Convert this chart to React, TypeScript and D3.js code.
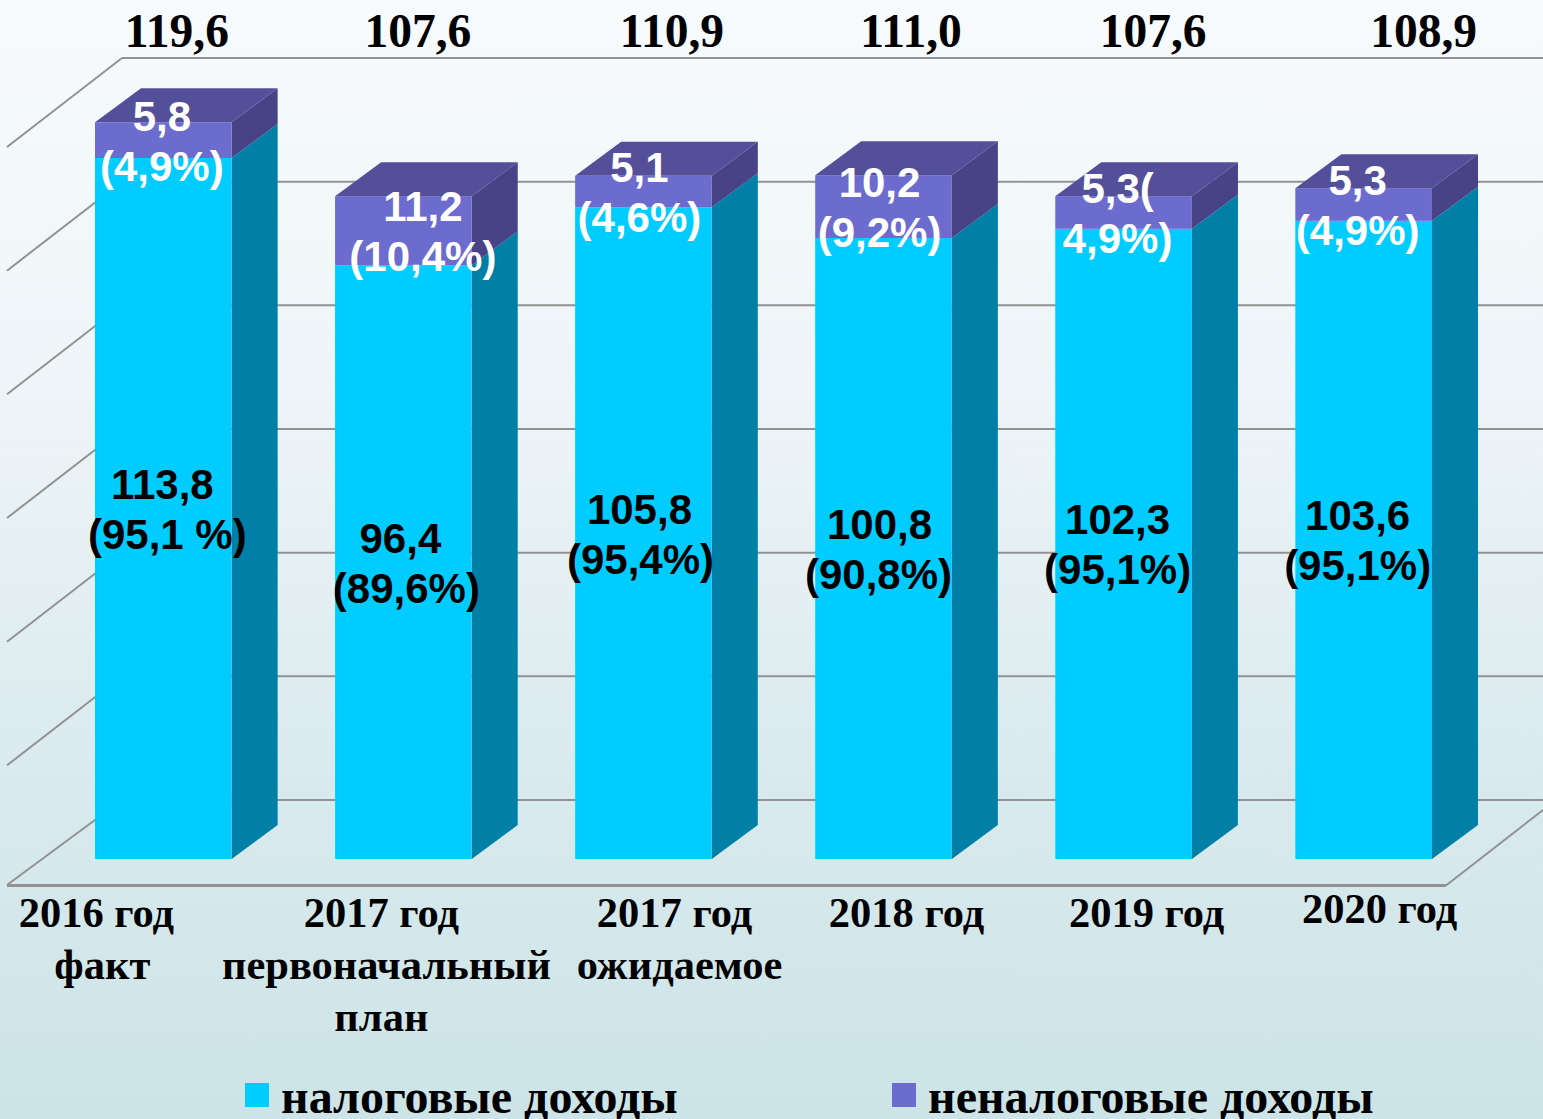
// Stacked pseudo-3D bars: tax and non-tax budget revenue by year.
import * as d3 from 'd3';

const keys = ['2016f', '2017p', '2017e', '2018', '2019', '2020'];
const totals = ['119,6', '107,6', '110,9', '111,0', '107,6', '108,9'];
const taxValues = [113.8, 96.4, 105.8, 100.8, 102.3, 103.6];
const nonTaxValues = [5.8, 11.2, 5.1, 10.2, 5.3, 5.3];
const taxLabels = [
  ['113,8', '(95,1 %)'],
  ['96,4', '(89,6%)'],
  ['105,8', '(95,4%)'],
  ['100,8', '(90,8%)'],
  ['102,3', '(95,1%)'],
  ['103,6', '(95,1%)'],
];
const nonTaxLabels = [
  ['5,8', '(4,9%)'],
  ['11,2', '(10,4%)'],
  ['5,1', '(4,6%)'],
  ['10,2', '(9,2%)'],
  ['5,3(', '4,9%)'],
  ['5,3', '(4,9%)'],
];
const categoryLabels = [
  ['2016 год', 'факт'],
  ['2017 год', 'первоначальный', 'план'],
  ['2017 год', 'ожидаемое'],
  ['2018 год'],
  ['2019 год'],
  ['2020 год'],
];
const gridTicks = [0, 20, 40, 60, 80, 100, 120];
const legendNames = ['налоговые доходы', 'неналоговые доходы'];

// hand-placed label nudges, px relative to the bar centre
const totalDx = [13.5, 14.5, 28.5, 27.5, 29.5, 60];
const taxDx = [[-1, 4], [-3, 3], [-4, -3], [-4, -5], [-6, -6], [-6, -6]];
const nonTaxDx = [-1.5, 19.5, -4, -4, -6, -6];
const categoryDx = [[-67, -61], [-22, -17, -22], [31, 36], [23], [23], [16]];
const categoryDy = [0, 0, 0, 0, 0, -4];

const WIDTH = 1543;
const HEIGHT = 1119;
const DEPTH_X = 46;
const DEPTH_Y = 34;
const SERIF = '"Liberation Serif", serif';
const SANS = '"Liberation Sans", sans-serif';

const colors = {
  tax: '#00ccff',
  taxSide: '#0080a6',
  nonTax: '#6c6bce',
  nonTaxTop: '#544f99',
  nonTaxSide: '#484386',
  grid: '#929292',
};

const x = d3.scaleBand<string>().domain(keys).range([43.5, 1483.5]).paddingInner(103.4 / 240).paddingOuter(0.2146);
const y = d3.scaleLinear().domain([0, 120]).range([859, 119.8]);
const wallY = d3.scaleLinear().domain([0, 120]).range([800, 58]);

function Box({ left, width, top, bottom, front, side }: { left: number; width: number; top: number; bottom: number; front: string; side: string }) {
  const right = left + width;
  const path = d3.path();
  path.moveTo(right, top);
  path.lineTo(right + DEPTH_X, top - DEPTH_Y);
  path.lineTo(right + DEPTH_X, bottom - DEPTH_Y);
  path.lineTo(right, bottom);
  path.closePath();
  return (
    <g>
      <path d={path.toString()} fill={side} />
      <rect x={left} y={top} width={width} height={bottom - top} fill={front} />
    </g>
  );
}

function Lines({ lines, cx, y0, dy, dx, ...rest }: any) {
  return (
    <text {...rest}>
      {lines.map((line: string, i: number) => (
        <tspan key={i} x={cx + (Array.isArray(dx) ? dx[i] : dx)} y={y0 + i * dy} textAnchor="middle">
          {line}
        </tspan>
      ))}
    </text>
  );
}

export default function App() {
  const wallLeft = 122;
  const floorLeft = 7;
  const floorRight = 1446;

  return (
    <svg
      width={WIDTH}
      height={HEIGHT}
      viewBox={`0 0 ${WIDTH} ${HEIGHT}`}
      style={{ position: 'absolute', left: 0, top: 0, display: 'block' }}
    >
      <defs>
        <linearGradient id="bg" x1="0" y1="0" x2="0" y2="1">
          <stop offset="0" stopColor="#f7fbfe" />
          <stop offset="0.35" stopColor="#eef4f7" />
          <stop offset="0.7" stopColor="#d9eaee" />
          <stop offset="1" stopColor="#cce4e7" />
        </linearGradient>
      </defs>
      <rect width={WIDTH} height={HEIGHT} fill="url(#bg)" />

      {/* back wall grid and left wall */}
      {gridTicks.map((t) => (
        <g key={t} stroke={colors.grid} strokeWidth={2} fill="none">
          <line x1={wallLeft} x2={WIDTH} y1={wallY(t)} y2={wallY(t)} />
          <line x1={wallLeft} y1={wallY(t)} x2={floorLeft} y2={wallY(t) + (t === 0 ? 85 : 89)} />
        </g>
      ))}
      {/* floor front edge */}
      <line x1={floorLeft} x2={floorRight} y1={885.5} y2={885.5} stroke={colors.grid} strokeWidth={3} />
      <line x1={floorRight} y1={885.5} x2={WIDTH} y2={810} stroke={colors.grid} strokeWidth={2} />

      {/* bars */}
      {keys.map((k, i) => {
        const left = x(k) as number;
        const w = x.bandwidth();
        const taxTop = y(taxValues[i]);
        const top = y(taxValues[i] + nonTaxValues[i]);
        const cap = d3.path();
        cap.moveTo(left, top);
        cap.lineTo(left + DEPTH_X, top - DEPTH_Y);
        cap.lineTo(left + w + DEPTH_X, top - DEPTH_Y);
        cap.lineTo(left + w, top);
        cap.closePath();
        return (
          <g key={k}>
            <Box left={left} width={w} top={taxTop} bottom={y(0)} front={colors.tax} side={colors.taxSide} />
            <Box left={left} width={w} top={top} bottom={taxTop} front={colors.nonTax} side={colors.nonTaxSide} />
            <path d={cap.toString()} fill={colors.nonTaxTop} />
          </g>
        );
      })}

      {/* value labels */}
      {keys.map((k, i) => {
        const cx = (x(k) as number) + x.bandwidth() / 2;
        const taxTop = y(taxValues[i]);
        const top = y(taxValues[i] + nonTaxValues[i]);
        return (
          <g key={k} fontWeight="bold">
            <text x={cx + totalDx[i]} y={46.5} textAnchor="middle" fontFamily={SERIF} fontSize={47.5} fill="#000">
              {totals[i]}
            </text>
            <Lines lines={taxLabels[i]} cx={cx} dx={taxDx[i]} y0={(taxTop + y(0)) / 2 - 9.5} dy={50} fontFamily={SANS} fontSize={42} fill="#000" />
            <Lines lines={nonTaxLabels[i]} cx={cx} dx={nonTaxDx[i]} y0={(top + taxTop) / 2 - 9.5} dy={50} fontFamily={SANS} fontSize={42} fill="#fff" />
          </g>
        );
      })}

      {/* category labels */}
      {keys.map((k, i) => (
        <Lines
          key={k}
          lines={categoryLabels[i]}
          cx={(x(k) as number) + x.bandwidth() / 2}
          dx={categoryDx[i]}
          y0={927 + categoryDy[i]}
          dy={52}
          fontFamily={SERIF}
          fontWeight="bold"
          fontSize={42.5}
          fill="#000"
        />
      ))}

      {/* legend */}
      <g fontFamily={SERIF} fontWeight="bold" fontSize={48} fill="#000">
        <rect x={245} y={1083} width={24} height={24} fill={colors.tax} />
        <text x={281} y={1113}>{legendNames[0]}</text>
        <rect x={892} y={1083} width={24} height={24} fill={colors.nonTax} />
        <text x={928} y={1113}>{legendNames[1]}</text>
      </g>
    </svg>
  );
}
